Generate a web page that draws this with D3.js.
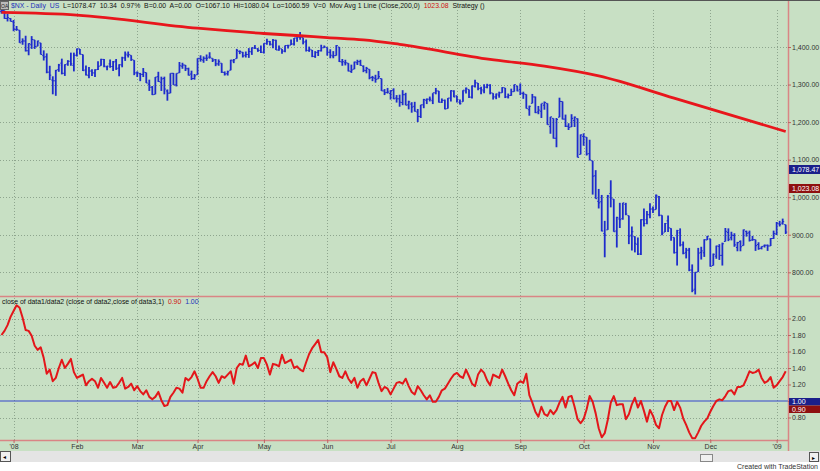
<!DOCTYPE html>
<html><head><meta charset="utf-8">
<script src="https://cdn.jsdelivr.net/npm/d3@7/dist/d3.min.js"></script>
<style>
body{margin:0;padding:0;background:#fff;overflow:hidden}
svg{display:block;font-family:Arial,"Liberation Sans",sans-serif}
.pre{white-space:pre}
</style></head><body>
<svg id="c" width="820" height="471"></svg>
<script>
// ---------------- DATA ----------------
// daily bars Dec 26 2007 .. Jan 7 2009 : [open, high, low, close]
const bars = [
[1495,1499,1489,1497],[1497,1497,1475,1476],[1476,1488,1468,1478],[1476,1477,1468,1468],
// Jan
[1467,1472,1442,1447],[1447,1456,1443,1447],[1445,1445,1411,1411],[1414,1423,1406,1416],[1416,1430,1388,1390],
[1390,1410,1378,1409],[1406,1429,1395,1420],[1419,1419,1395,1401],[1402,1417,1402,1416],[1411,1411,1380,1380],
[1377,1391,1364,1373],[1374,1383,1330,1333],[1333,1350,1312,1325],[1312,1322,1274,1310],[1310,1339,1270,1338],
[1340,1355,1334,1352],[1357,1369,1327,1330],[1330,1354,1323,1353],[1355,1365,1350,1362],[1362,1385,1350,1355],
[1351,1385,1335,1378],
// Feb
[1378,1396,1375,1395],[1395,1395,1380,1381],[1380,1380,1336,1337],[1339,1351,1324,1326],[1324,1347,1317,1336],
[1336,1341,1323,1331],[1331,1341,1320,1339],[1340,1362,1339,1348],[1350,1369,1350,1367],[1367,1368,1346,1349],
[1347,1350,1338,1349],[1355,1367,1345,1348],[1348,1363,1336,1360],[1362,1368,1339,1342],[1344,1354,1322,1353],
[1352,1374,1346,1371],[1371,1388,1363,1381],[1378,1388,1372,1380],[1378,1378,1363,1367],[1365,1365,1325,1331],
// Mar
[1331,1335,1320,1331],[1329,1331,1309,1327],[1327,1344,1320,1333],[1332,1332,1304,1304],[1301,1313,1283,1293],
[1293,1296,1272,1273],[1274,1320,1274,1320],[1321,1334,1307,1308],[1306,1321,1283,1315],[1316,1321,1274,1288],
[1283,1287,1257,1277],[1277,1330,1277,1330],[1330,1331,1299,1299],[1299,1330,1295,1330],[1331,1360,1331,1350],
[1349,1358,1342,1352],[1352,1352,1336,1342],[1342,1345,1324,1325],[1328,1337,1312,1316],[1316,1328,1313,1323],
// Apr
[1326,1370,1326,1370],[1369,1378,1361,1367],[1365,1375,1358,1370],[1370,1380,1363,1370],[1373,1386,1369,1373],
[1370,1370,1360,1365],[1366,1368,1349,1355],[1355,1367,1350,1361],[1357,1357,1331,1333],[1332,1335,1324,1328],
[1329,1337,1324,1334],[1338,1366,1338,1365],[1363,1368,1357,1366],[1369,1395,1369,1391],[1388,1391,1381,1388],
[1386,1387,1372,1376],[1378,1388,1372,1380],[1380,1397,1371,1388],[1387,1399,1379,1398],[1397,1405,1395,1397],
[1395,1397,1387,1391],[1391,1404,1384,1386],
// May
[1386,1410,1383,1410],[1409,1422,1406,1414],[1415,1416,1404,1408],[1406,1421,1397,1418],[1418,1419,1392,1392],
[1392,1404,1390,1397],[1395,1395,1382,1389],[1389,1404,1386,1404],[1404,1406,1396,1403],[1405,1420,1405,1408],
[1408,1424,1404,1424],[1424,1426,1414,1426],[1426,1440,1419,1426],[1425,1425,1407,1413],[1414,1420,1388,1391],
[1391,1401,1387,1394],[1392,1392,1373,1375],[1375,1389,1371,1385],[1386,1392,1376,1390],[1390,1406,1388,1398],
[1398,1404,1398,1400],
// Jun
[1399,1399,1377,1386],[1386,1394,1370,1378],[1376,1389,1370,1377],[1377,1405,1377,1404],[1400,1400,1360,1361],
[1360,1368,1350,1361],[1358,1366,1351,1358],[1357,1357,1335,1336],[1335,1353,1331,1339],[1341,1361,1341,1360],
[1358,1366,1352,1361],[1361,1366,1350,1351],[1349,1351,1333,1338],[1337,1347,1330,1343],[1341,1341,1314,1318],
[1319,1323,1309,1318],[1317,1326,1305,1314],[1315,1336,1315,1321],[1316,1316,1283,1283],[1283,1288,1272,1278],
[1279,1291,1276,1280],
// Jul
[1276,1285,1260,1284],[1285,1290,1261,1262],[1264,1272,1252,1262],[1262,1273,1241,1253],[1252,1285,1245,1273],
[1273,1278,1245,1245],[1246,1257,1234,1254],[1248,1253,1225,1240],[1242,1254,1228,1229],[1227,1235,1200,1215],
[1215,1246,1211,1246],[1246,1262,1237,1260],[1258,1263,1248,1261],[1261,1268,1255,1261],[1257,1277,1248,1278],
[1278,1291,1274,1283],[1283,1283,1252,1253],[1253,1263,1251,1258],[1258,1260,1234,1235],[1236,1264,1236,1264],
[1264,1285,1255,1284],[1282,1285,1266,1267],
// Aug
[1270,1270,1252,1260],[1253,1260,1247,1249],[1254,1285,1254,1285],[1283,1292,1276,1290],[1287,1287,1264,1267],
[1266,1297,1263,1297],[1295,1313,1292,1305],[1304,1304,1285,1290],[1289,1294,1274,1286],[1283,1301,1277,1293],
[1293,1302,1290,1298],[1298,1301,1274,1278],[1277,1277,1260,1267],[1267,1276,1261,1275],[1272,1281,1265,1278],
[1278,1293,1278,1292],[1291,1291,1264,1267],[1267,1276,1263,1271],[1271,1289,1270,1281],[1281,1300,1281,1300],
[1296,1297,1282,1283],
// Sep
[1287,1303,1272,1277],[1276,1281,1262,1275],[1274,1274,1236,1236],[1233,1244,1217,1242],[1250,1275,1250,1267],
[1267,1268,1224,1225],[1227,1243,1221,1232],[1229,1249,1211,1250],[1245,1255,1233,1252],[1250,1250,1193,1193],
[1188,1214,1169,1214],[1210,1210,1156,1157],[1157,1211,1133,1207],[1213,1265,1213,1255],[1255,1255,1207,1208],
[1208,1220,1187,1189],[1189,1197,1179,1186],[1187,1221,1187,1210],[1204,1215,1187,1213],[1209,1210,1106,1106],
[1114,1167,1114,1166],
// Oct
[1162,1170,1137,1161],[1160,1160,1111,1115],[1116,1153,1098,1099],[1097,1097,1007,1056],[1057,1072,996,996],
[989,1022,970,985],[988,1006,909,910],[903,937,840,899],[913,1006,913,1003],[1010,1045,973,998],
[995,995,908,908],[910,948,866,946],[942,985,918,940],[943,985,940,985],[981,985,952,955],
[951,951,875,896],[899,922,858,908],[895,896,853,877],[874,893,846,848],[849,941,846,940],
[940,970,922,930],[940,963,928,954],[953,984,944,968],
// Nov
[969,975,958,966],[967,1007,967,1005],[1002,1003,949,952],[952,952,899,904],[907,931,907,930],
[937,951,907,919],[917,917,884,898],[893,893,850,852],[853,913,818,911],[905,917,869,873],
[873,882,848,850],[853,865,837,859],[859,865,803,806],[806,821,747,752],[755,801,741,800],
[801,865,801,851],[853,868,834,857],[852,888,841,887],[886,897,886,896],
// Dec
[889,889,815,816],[818,850,818,848],[843,871,836,870],[869,875,833,845],[845,879,818,876],
[882,918,882,909],[906,917,883,888],[892,908,885,899],[898,904,868,873],[866,881,856,879],
[882,885,856,868],[871,914,871,913],[909,911,895,904],[905,911,882,885],[886,897,884,887],
[887,887,857,871],[874,880,860,863],[864,869,861,869],[870,874,866,872],[872,874,857,870],
[870,891,870,890],[890,911,889,903],
// Jan 2009
[902,934,899,931],[929,937,922,927],[931,943,927,935],[927,927,902,907]
];

// 200-day moving average at these bar indices
const maIdx = [0, 25, 65, 87, 99, 108, 120, 132, 162, 180, 198, 223, 260];
const maVal = [1492, 1485, 1450, 1436, 1430, 1425, 1419, 1407, 1367, 1349, 1323, 1264, 1175];

// lower panel ratio, one value per bar
const ratio = [
1.80,1.85,1.92,2.02,2.09,2.16,2.13,2.01,1.86,1.85,1.79,1.67,1.62,1.65,1.52,1.33,1.38,1.24,1.28,1.40,
1.50,1.40,1.45,1.51,1.35,1.28,1.30,1.32,1.19,1.24,1.27,1.24,1.16,1.28,1.22,1.16,1.23,1.16,1.17,1.22,
1.28,1.15,1.17,1.21,1.13,1.18,1.12,1.08,1.13,1.05,1.02,1.05,1.11,1.01,0.94,0.95,1.05,1.10,1.16,1.15,
1.10,1.28,1.25,1.29,1.36,1.27,1.16,1.16,1.24,1.30,1.35,1.30,1.22,1.30,1.28,1.32,1.36,1.21,1.40,1.45,
1.44,1.55,1.42,1.44,1.47,1.40,1.52,1.52,1.44,1.32,1.45,1.44,1.42,1.56,1.46,1.48,1.50,1.40,1.42,1.38,
1.36,1.47,1.57,1.64,1.69,1.74,1.59,1.59,1.53,1.35,1.47,1.39,1.30,1.28,1.36,1.27,1.22,1.28,1.16,1.24,
1.27,1.19,1.27,1.35,1.34,1.22,1.12,1.17,1.15,1.08,1.15,1.22,1.23,1.21,1.27,1.18,1.11,1.08,1.18,1.13,
1.07,1.02,1.07,0.99,0.99,1.05,1.13,1.15,1.21,1.27,1.32,1.34,1.30,1.28,1.38,1.30,1.21,1.18,1.32,1.38,
1.34,1.25,1.19,1.32,1.30,1.28,1.38,1.30,1.21,1.13,1.07,1.21,1.24,1.22,1.33,1.07,0.98,0.87,0.81,0.93,
0.84,0.82,0.89,0.84,0.89,0.98,1.05,0.92,1.05,1.06,0.93,0.78,0.73,0.78,0.90,1.06,0.99,0.85,0.67,0.56,
0.61,0.77,0.98,1.06,0.95,0.96,0.96,0.78,0.84,0.96,1.04,0.92,1.00,0.88,0.75,0.89,0.82,0.71,0.67,0.83,
0.93,1.00,1.00,0.89,0.99,0.92,0.79,0.71,0.62,0.55,0.55,0.62,0.70,0.75,0.79,0.87,0.94,1.00,1.02,1.01,
1.06,1.12,1.13,1.08,1.17,1.17,1.19,1.27,1.36,1.34,1.35,1.38,1.28,1.22,1.24,1.29,1.16,1.19,1.24,1.29,
1.36];

const monthIdx = [4, 25, 45, 65, 87, 108, 129, 151, 172, 193, 216, 235, 257];
const monthLabels = ["'08","Feb","Mar","Apr","May","Jun","Jul","Aug","Sep","Oct","Nov","Dec","'09"];
const priceTicks = [800, 900, 1000, 1100, 1200, 1300, 1400];
const ratioTicks = [0.8, 1.2, 1.4, 1.6, 1.8, 2.0];

// ---------------- CHART ----------------
const svg = d3.select("#c");
const W = 820, H = 471, plotR = 788;
const upTop = 0, upBot = 296, loTop = 297, loBot = 440;

const x = d3.scaleLinear().domain([0, 260]).range([1.5, 785.7]);
const yP = d3.scaleLinear().domain([800, 1400]).range([272.3, 47]);
const yR = d3.scaleLinear().domain([1.0, 2.0]).range([401, 318.5]);

const green = "#c8e0c4";
svg.append("rect").attr("width", W).attr("height", 451).attr("fill", green);
// scrollbar strip
svg.append("rect").attr("x", 0).attr("y", 451).attr("width", W).attr("height", 11).attr("fill", "#e4e4e4");
svg.append("rect").attr("x", 0.5).attr("y", 451.5).attr("width", 10).attr("height", 10).attr("fill", "#f0f0f0").attr("stroke", "#555");
svg.append("rect").attr("x", 700.5).attr("y", 454.5).attr("width", 12).attr("height", 7).attr("fill", "#f0f0f0").attr("stroke", "#888");
svg.append("rect").attr("x", 809.5).attr("y", 452.5).attr("width", 9).attr("height", 9).attr("fill", "#f0f0f0").attr("stroke", "#555");
svg.append("text").attr("x", 3).attr("y", 459).attr("font-size", 6).text("◂");
svg.append("text").attr("x", 812).attr("y", 460).attr("font-size", 6).text("▸");
svg.append("text").attr("x", 818).attr("y", 469).attr("font-size", 7).attr("text-anchor", "end").attr("fill", "#333").text("Created with TradeStation");

// gridlines
const grid = svg.append("g").attr("stroke", "#8ea58e").attr("stroke-width", 1).attr("stroke-dasharray", "1,2");
monthIdx.forEach(i => {
  grid.append("line").attr("x1", Math.round(x(i)) + 0.5).attr("x2", Math.round(x(i)) + 0.5).attr("y1", 10).attr("y2", loBot);
});
priceTicks.forEach(v => {
  grid.append("line").attr("x1", 0).attr("x2", plotR).attr("y1", Math.round(yP(v)) + 0.5).attr("y2", Math.round(yP(v)) + 0.5);
});
ratioTicks.forEach(v => {
  grid.append("line").attr("x1", 0).attr("x2", plotR).attr("y1", Math.round(yR(v)) + 0.5).attr("y2", Math.round(yR(v)) + 0.5);
});

// clips
svg.append("clipPath").attr("id", "cu").append("rect").attr("x", 0).attr("y", upTop).attr("width", plotR).attr("height", upBot - upTop);
svg.append("clipPath").attr("id", "cl").append("rect").attr("x", 0).attr("y", loTop).attr("width", plotR).attr("height", loBot - loTop);

// OHLC bars
const gb = svg.append("g").attr("clip-path", "url(#cu)").attr("stroke", "#1e2ccc");
bars.forEach((b, i) => {
  const cx = x(i);
  gb.append("line").attr("x1", cx).attr("x2", cx).attr("y1", yP(b[1])).attr("y2", yP(b[2])).attr("stroke-width", 1.8);
  gb.append("line").attr("x1", cx - 1.5).attr("x2", cx).attr("y1", yP(b[0])).attr("y2", yP(b[0])).attr("stroke-width", 1);
  gb.append("line").attr("x1", cx).attr("x2", cx + 1.5).attr("y1", yP(b[3])).attr("y2", yP(b[3])).attr("stroke-width", 1);
});

// moving average
svg.append("path").attr("clip-path", "url(#cu)")
  .datum(maIdx.map((d, k) => [d, maVal[k]]))
  .attr("fill", "none").attr("stroke", "#e8161c").attr("stroke-width", 2.8)
  .attr("d", d3.line().x(d => x(d[0])).y(d => yP(d[1])).curve(d3.curveMonotoneX));

// lower panel
svg.append("line").attr("x1", 0).attr("x2", plotR).attr("y1", yR(1)).attr("y2", yR(1)).attr("stroke", "#3344cc").attr("stroke-width", 1.2);
svg.append("path").attr("clip-path", "url(#cl)")
  .datum(ratio)
  .attr("fill", "none").attr("stroke", "#e3161a").attr("stroke-width", 2).attr("stroke-linejoin", "round")
  .attr("d", d3.line().x((d, i) => x(i)).y(d => yR(d)));

// separators
const sep = "#d98585";
svg.append("line").attr("x1", plotR + 0.5).attr("x2", plotR + 0.5).attr("y1", 0).attr("y2", 451).attr("stroke", sep).attr("stroke-width", 1.5);
svg.append("line").attr("x1", 0).attr("x2", W).attr("y1", upBot + 0.5).attr("y2", upBot + 0.5).attr("stroke", sep).attr("stroke-width", 1.5);
svg.append("line").attr("x1", 0).attr("x2", plotR).attr("y1", loBot + 0.5).attr("y2", loBot + 0.5).attr("stroke", sep).attr("stroke-width", 1.5);
svg.append("line").attr("x1", 0).attr("x2", W).attr("y1", 0.5).attr("y2", 0.5).attr("stroke", "#555").attr("stroke-width", 1);

// axes
const axP = svg.append("g").attr("transform", `translate(${plotR},0)`)
  .call(d3.axisRight(yP).tickValues(priceTicks).tickFormat(d3.format(",.2f")).tickSize(3).tickPadding(1));
const axR = svg.append("g").attr("transform", `translate(${plotR},0)`)
  .call(d3.axisRight(yR).tickValues([0.8, 1.0, 1.2, 1.4, 1.6, 1.8, 2.0]).tickFormat(d3.format(".2f")).tickSize(3).tickPadding(1));
const axX = svg.append("g").attr("transform", `translate(0,${loBot})`)
  .call(d3.axisBottom(x).tickValues(monthIdx).tickFormat((d, k) => monthLabels[k]).tickSize(3).tickPadding(1));
[axP, axR, axX].forEach(a => {
  a.select(".domain").remove();
  a.selectAll("line").attr("stroke", "#c06060");
  a.selectAll("text").attr("font-size", 7).attr("fill", "#333").attr("font-family", "Arial,'Liberation Sans',sans-serif");
});

// value flags
function flag(y0, h, txt, fill) {
  svg.append("rect").attr("x", 789).attr("y", y0).attr("width", 31).attr("height", h).attr("fill", fill);
  svg.append("text").attr("x", 792).attr("y", y0 + h / 2 + 2.5).attr("font-size", 7).attr("fill", "#fff").text(txt);
}
flag(165, 9, "1,078.47", "#1a1f8a");
flag(184, 9, "1,023.08", "#8e1010");
flag(398, 7.5, "1.00", "#1a1f8a");
flag(405.5, 7.5, "0.90", "#8e1010");

// header
svg.append("rect").attr("x", 0.5).attr("y", 1.5).attr("width", 8).attr("height", 8).attr("fill", "#bbb").attr("stroke", "#666");
svg.append("text").attr("x", 1).attr("y", 8).attr("font-size", 5).attr("fill", "#222").text("OA");
const hdr = svg.append("text").attr("class", "pre").attr("x", 11).attr("y", 8).attr("font-size", 6.9);
hdr.append("tspan").attr("fill", "#2233bb").text("$NX - Daily  US  ");
hdr.append("tspan").attr("fill", "#111").text("L=1078.47  10.34  0.97%  B=0.00  A=0.00  O=1067.10  Hi=1080.04  Lo=1060.59  V=0  Mov Avg 1 Line (Close,200,0)  ");
hdr.append("tspan").attr("fill", "#d01010").text("1023.08  ");
hdr.append("tspan").attr("fill", "#111").text("Strategy ()");

const h2 = svg.append("text").attr("class", "pre").attr("x", 2).attr("y", 304).attr("font-size", 6.9);
h2.append("tspan").attr("fill", "#111").text("close of data1/data2 (close of data2,close of data3,1)  ");
h2.append("tspan").attr("fill", "#d01010").text("0.90  ");
h2.append("tspan").attr("fill", "#2233bb").text("1.00");
</script>
</body></html>
